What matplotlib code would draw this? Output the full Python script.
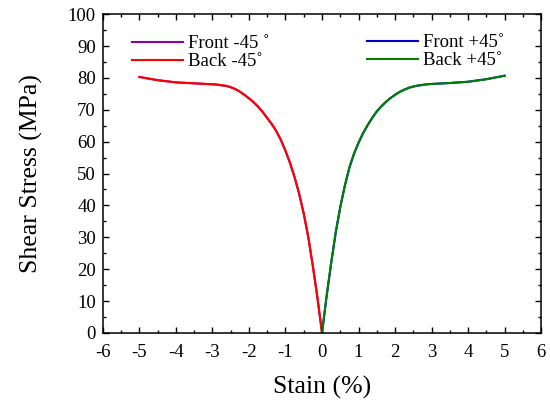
import matplotlib
matplotlib.use("Agg")
import matplotlib.pyplot as plt
from matplotlib.ticker import MultipleLocator

plt.rcParams['font.family'] = ['Liberation Serif', 'DejaVu Serif']
plt.rcParams['axes.unicode_minus'] = False

# strain (%) and shear stress (MPa)
strain_neg = [-5.0, -4.5, -4.0, -3.5, -3.0, -2.875, -2.75, -2.625, -2.5, -2.375,
              -2.25, -2.125, -2.0, -1.875, -1.75, -1.625, -1.5, -1.375, -1.25,
              -1.125, -1.0, -0.875, -0.75, -0.625, -0.5, -0.375, -0.25, -0.125, 0.0]
stress_neg = [80.3, 79.3, 78.6, 78.3, 78.0, 77.9, 77.7, 77.5, 77.1, 76.5,
              75.7, 74.7, 73.6, 72.4, 71.0, 69.3, 67.4, 65.5, 63.3,
              60.5, 57.1, 53.3, 48.8, 43.6, 37.4, 30.0, 20.9, 11.0, 0.0]

strain_pos = [0.0, 0.125, 0.25, 0.375, 0.5, 0.625, 0.75, 0.875, 1.0, 1.125, 1.25,
              1.375, 1.5, 1.625, 1.75, 1.875, 2.0, 2.125, 2.25, 2.375, 2.5, 2.625,
              2.75, 2.875, 3.0, 3.5, 4.0, 4.5, 5.0]
stress_pos = [0.0, 11.5, 21.9, 31.5, 39.5, 46.2, 51.9, 56.2, 59.7, 62.7, 65.2,
              67.5, 69.5, 71.1, 72.5, 73.7, 74.7, 75.6, 76.3, 76.9, 77.3, 77.6,
              77.8, 78.0, 78.1, 78.4, 78.8, 79.6, 80.7]

labels_left = ['Front -45 \u02da', 'Back -45\u02da']
labels_right = ['Front +45\u02da', 'Back +45\u02da']

fig = plt.figure(figsize=(5.5, 4.05), dpi=100)
ax = fig.add_axes([0.187, 0.178, 0.797, 0.787])

l1, = ax.plot(strain_neg, stress_neg, color='#8B00A0', lw=1.5)
l2, = ax.plot(strain_neg, stress_neg, color='#FF0000', lw=1.5)
l3, = ax.plot(strain_pos, stress_pos, color='#0000CC', lw=1.5)
l4, = ax.plot(strain_pos, stress_pos, color='#008000', lw=1.5)

ax.set_xlim(-6, 6)
ax.set_ylim(0, 100)
ax.xaxis.set_major_locator(MultipleLocator(1))
ax.xaxis.set_minor_locator(MultipleLocator(0.5))
ax.yaxis.set_major_locator(MultipleLocator(10))
ax.yaxis.set_minor_locator(MultipleLocator(5))
ax.tick_params(which='both', direction='in', top=True, right=True, width=1)
ax.tick_params(which='major', length=4, labelsize=13.5)
ax.tick_params(which='minor', length=2.5)
ax.tick_params(axis='x', which='major', pad=8)
ax.tick_params(axis='y', which='major', pad=5)
for s in ax.spines.values():
    s.set_linewidth(1.1)

ax.set_xlabel('Stain (%)', fontsize=18.5, labelpad=11)
ax.set_ylabel('Shear Stress (MPa)', fontsize=18.5, labelpad=18)

leg_kw = dict(frameon=False, fontsize=13.5, handlelength=2.7, handletextpad=0.3,
              labelspacing=0.05, borderpad=0, borderaxespad=0, loc='upper left',
              bbox_transform=fig.transFigure)
leg1 = ax.legend([l1, l2], labels_left, bbox_to_anchor=(132 / 550, 1 - 35 / 405), **leg_kw)
ax.add_artist(leg1)
ax.legend([l3, l4], labels_right, bbox_to_anchor=(367 / 550, 1 - 34 / 405), **leg_kw)

fig.savefig('out.png', dpi=100)
